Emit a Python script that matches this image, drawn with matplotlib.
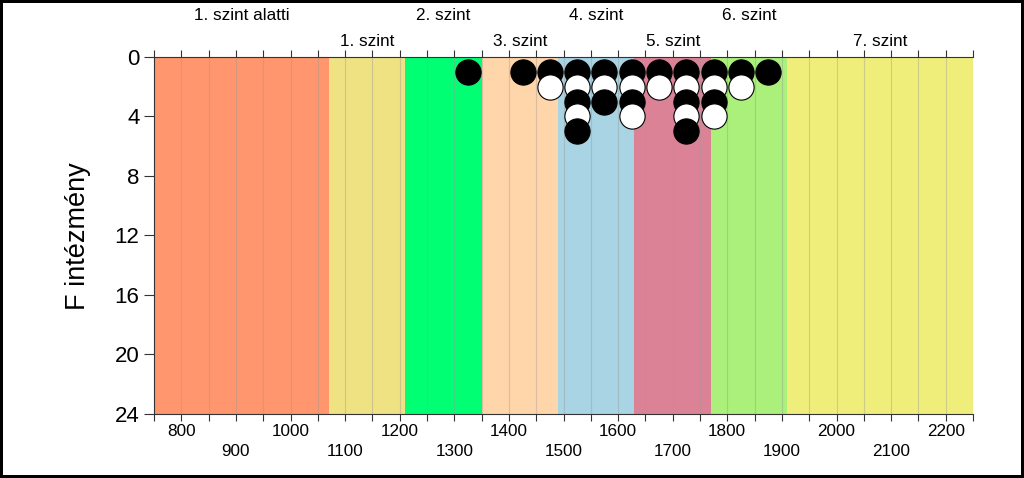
import matplotlib.pyplot as plt
import numpy as np

plt.rcParams['font.family'] = ['Liberation Sans', 'DejaVu Sans']

# szintek hatarai es szinei
hatarok = [750, 1070, 1210, 1350, 1490, 1630, 1770, 1910, 2250]
szint_nevek = ['1. szint alatti', '1. szint', '2. szint', '3. szint',
               '4. szint', '5. szint', '6. szint', '7. szint']
szinek = ['#FF966E', '#EEE282', '#00FF73', '#FFD5AA',
          '#A8D4E4', '#DC8296', '#AAF07A', '#F0EE7A']

# intezmenyek szama pontszam-savonkent
sav_kozep = [1325, 1425, 1475, 1525, 1575, 1625, 1675, 1725, 1775, 1825, 1875]
darab = [1, 1, 2, 5, 3, 4, 2, 5, 4, 2, 1]

fig = plt.figure(figsize=(10.24, 4.78), dpi=100, linewidth=3, edgecolor='black')
ax = fig.add_axes([0.1504, 0.1339, 0.7998, 0.7469])

for i in range(len(szinek)):
    ax.axvspan(hatarok[i], hatarok[i + 1], color=szinek[i], zorder=0, lw=0)

for xg in range(750, 2251, 50):
    ax.axvline(xg, color='#999999', alpha=0.4, lw=0.8, zorder=1)

# pontok egymas ala rakva, felvaltva fekete es feher
for (x, n) in zip(sav_kozep, darab):
    for k in range(1, n + 1):
        ax.scatter([x], [k], s=330, color='black' if k % 2 == 1 else 'white',
                   edgecolors='black', linewidths=0.8, zorder=3 + k)

for i, nev in enumerate(szint_nevek):
    kozep = (hatarok[i] + hatarok[i + 1]) / 2
    ysor = 1.115 if i % 2 == 0 else 1.042
    ax.text(kozep, ysor, nev, transform=ax.get_xaxis_transform(),
            ha='center', va='center', fontsize=12.3)

ax.set_xlim(750, 2250)
ax.set_ylim(24, 0)
ax.set_yticks(range(0, 25, 4))
ax.tick_params(axis='y', labelsize=16, length=7, color='#333333')

xt = list(range(750, 2251, 50))
xl = []
for v in xt:
    if v % 100 != 0 or v < 800 or v > 2200:
        xl.append('')
    elif (v // 100) % 2 == 0:
        xl.append(str(v))
    else:
        xl.append('\n' + str(v))
ax.set_xticks(xt)
ax.set_xticklabels(xl, fontsize=12.3, linespacing=1.45)
ax.tick_params(axis='x', top=True, length=5, pad=2, color='#333333')

for s in ['right']:
    ax.spines[s].set_visible(False)
for s in ['left', 'top', 'bottom']:
    ax.spines[s].set_color('#333333')
    ax.spines[s].set_linewidth(0.8)

fig.text(0.076, 0.505, 'F intézmény', rotation=90, ha='center', va='center',
         fontsize=19.5)

plt.savefig('out.png', dpi=100, edgecolor=fig.get_edgecolor())
